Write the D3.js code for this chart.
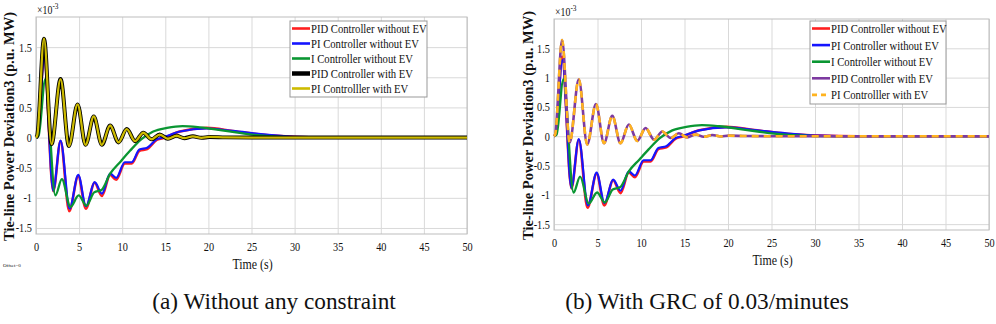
<!DOCTYPE html>
<html>
<head>
<meta charset="utf-8">
<script src="https://cdn.jsdelivr.net/npm/d3@7"></script>
<style>
  body { margin: 0; background: #fff; }
  svg { display: block; }
  text { font-family: "Liberation Serif", "Times New Roman", serif; fill: #111; }
</style>
</head>
<body>
<svg id="chart" width="996" height="324"></svg>
<script>
// values in units of 1e-3 p.u. MW
const xTicks = [0, 5, 10, 15, 20, 25, 30, 35, 40, 45, 50];
const yTicks = [-1.5, -1, -0.5, 0, 0.5, 1, 1.5];

const pidNoEV = [[0,0],[0.2,0.03],[0.93,1.36],[2.0,-0.89],[2.85,-0.06],[3.85,-1.22],[4.9,-0.64],[5.78,-1.18],[6.8,-0.75],[7.64,-0.97],[8.6,-0.62],[9.3,-0.70],[10.3,-0.43],[11.1,-0.43],[12.0,-0.22],[12.9,-0.19],[14.0,-0.04],[14.7,-0.01],[16.7,0.1],[19.8,0.16],[22.8,0.11],[26.7,0.04],[30.6,0.01],[35,0],[50,0]];
const piNoEV = [[0,0],[0.2,0.03],[0.95,1.3],[2.0,-0.88],[2.85,-0.05],[3.9,-1.18],[4.9,-0.62],[5.8,-1.14],[6.8,-0.74],[7.65,-0.93],[8.6,-0.6],[9.3,-0.67],[10.3,-0.41],[11.1,-0.41],[12.0,-0.2],[12.9,-0.17],[14.0,-0.03],[14.7,0],[16.7,0.1],[19.8,0.15],[22.8,0.11],[26.7,0.05],[30.6,0.01],[35,0],[50,0]];
const iNoEV = [[0,0],[0.3,0.03],[1.08,0.97],[2.25,-0.96],[3.0,-0.69],[4.0,-1.15],[4.95,-0.96],[5.85,-1.13],[6.75,-0.91],[7.6,-0.87],[8.6,-0.6],[9.8,-0.4],[10.9,-0.22],[12.2,-0.03],[13.6,0.1],[15.2,0.16],[17,0.19],[19,0.17],[22,0.11],[25,0.05],[28,0.015],[32,0],[50,0]];
const withEV = [[0,0],[0.15,0.04],[0.93,1.64],[1.8,-0.11],[2.85,0.97],[3.82,-0.14],[4.82,0.55],[5.75,-0.12],[6.7,0.35],[7.64,-0.12],[8.6,0.2],[9.57,-0.08],[10.53,0.14],[11.5,-0.06],[12.45,0.08],[13.4,-0.03],[14.35,0.05],[15.3,-0.02],[16.3,0.03],[17.2,-0.01],[18.2,0.02],[19.2,-0.005],[20.1,0.01],[22,0.003],[25,0],[50,0]];

const legendNames = ["PID Controller without EV", "PI Controller without EV", "I Controller without EV", "PID Controller with EV", "PI Controlller with EV"];

// the figure text is horizontally condensed
const SX = 0.82;

const panels = [
  {
    plot: { left: 36, top: 17, right: 467, bottom: 234 },
    legend: { x: 290, y: 21, w: 137, h: 76, step: 15 },
    ylabelX: 14, caption: "(a) Without any constraint", captionX: 274,
    series: [
      { data: pidNoEV, color: "#ff1f1f", width: 2.6 },
      { data: piNoEV, color: "#1414ff", width: 2.2 },
      { data: iNoEV, color: "#0a9632", width: 2.3 },
      { data: withEV, color: "#000", width: 4.0, thick: true },
      { data: withEV, color: "#cdbb00", width: 2.3 }
    ]
  },
  {
    plot: { left: 554, top: 19, right: 989, bottom: 230 },
    legend: { x: 810, y: 21, w: 136, h: 83, step: 16.6 },
    ylabelX: 533, caption: "(b) With GRC of 0.03/minutes", captionX: 707,
    series: [
      { data: pidNoEV, color: "#ff1f1f", width: 2.6 },
      { data: piNoEV, color: "#1414ff", width: 2.2 },
      { data: iNoEV, color: "#0a9632", width: 2.3 },
      { data: withEV, color: "#7d3aa0", width: 2.6 },
      { data: withEV, color: "#ffb31f", width: 2.6, dash: "7,5" }
    ]
  }
];

const svg = d3.select("#chart");

function squashText(parent, x, y, str, size, sx = SX) {
  return parent.append("text")
      .attr("transform", `translate(${x},${y}) scale(${sx},1)`)
      .attr("font-family", "Liberation Serif")
      .attr("font-size", size)
      .text(str);
}

panels.forEach(p => {
  const { left, top, right, bottom } = p.plot;
  const w = right - left, h = bottom - top;

  const x = d3.scaleLinear().domain([0, 50]).range([left, right]);
  const y = d3.scaleLinear().domain([-1.6, 2]).range([bottom, top]);

  // grid + tick labels
  svg.append("g")
      .attr("transform", `translate(0,${bottom})`)
      .call(d3.axisBottom(x).tickValues(xTicks).tickSize(-h).tickPadding(8).tickFormat(String))
      .call(g => g.select(".domain").remove())
      .call(g => g.selectAll("line").attr("stroke", "#d9d9d9"))
      .call(g => g.selectAll("text")
          .attr("font-size", "12.5px").attr("font-family", "Liberation Serif").attr("fill", "#111")
          .attr("transform", `scale(${SX},1)`));

  svg.append("g")
      .attr("transform", `translate(${left},0)`)
      .call(d3.axisLeft(y).tickValues(yTicks).tickSize(-w).tickPadding(5).tickFormat(String))
      .call(g => g.select(".domain").remove())
      .call(g => g.selectAll("line").attr("stroke", "#d9d9d9"))
      .call(g => g.selectAll("text")
          .attr("font-size", "12.5px").attr("font-family", "Liberation Serif").attr("fill", "#111")
          .attr("transform", `scale(${SX},1)`));

  svg.append("rect")
      .attr("x", left).attr("y", top)
      .attr("width", w).attr("height", h)
      .attr("fill", "none").attr("stroke", "#bdbdbd");

  const line = d3.line()
      .x(d => x(d[0]))
      .y(d => y(d[1]))
      .curve(d3.curveMonotoneX);

  p.series.forEach(s => {
    svg.append("path")
        .datum(s.data)
        .attr("d", line)
        .attr("fill", "none")
        .attr("stroke", s.color)
        .attr("stroke-width", s.width)
        .attr("stroke-dasharray", s.dash || null)
        .attr("stroke-linejoin", "round");
  });

  // x10^-3 multiplier
  const mult = squashText(svg, left + 1, top - 3, null, "12px");
  mult.append("tspan").text("×10");
  mult.append("tspan").attr("dy", -5).attr("font-size", "9px").text("-3");

  // axis labels
  squashText(svg, (left + right) / 2 + 1, bottom + 35, "Time (s)", "14.5px")
      .attr("text-anchor", "middle");

  svg.append("text")
      .attr("transform", `translate(${p.ylabelX},${(top + bottom) / 2 + 1}) rotate(-90)`)
      .attr("text-anchor", "middle")
      .attr("font-family", "Liberation Serif")
      .attr("font-size", "14.5px")
      .attr("font-weight", "bold")
      .text("Tie-line Power Deviation3 (p.u. MW)");

  // legend
  const lg = svg.append("g");
  lg.append("rect")
      .attr("x", p.legend.x).attr("y", p.legend.y)
      .attr("width", p.legend.w).attr("height", p.legend.h)
      .attr("fill", "#fff").attr("stroke", "#999");

  legendNames.forEach((name, i) => {
    const s = p.series[i];
    const ly = p.legend.y + 7.5 + i * p.legend.step;
    lg.append("line")
        .attr("x1", p.legend.x + 2).attr("x2", p.legend.x + 20)
        .attr("y1", ly).attr("y2", ly)
        .attr("stroke", s.color)
        .attr("stroke-width", s.thick ? 4.5 : 2.6)
        .attr("stroke-dasharray", s.dash ? "5,4" : null);
    squashText(lg, p.legend.x + 21, ly + 4.5, name, "13px");
  });

  squashText(svg, p.captionX, 309, p.caption, "24px", 0.97)
      .attr("text-anchor", "middle");
});

svg.append("text")
    .attr("x", 3).attr("y", 267)
    .attr("font-size", "5px")
    .text("Offset=0");
</script>
</body>
</html>
